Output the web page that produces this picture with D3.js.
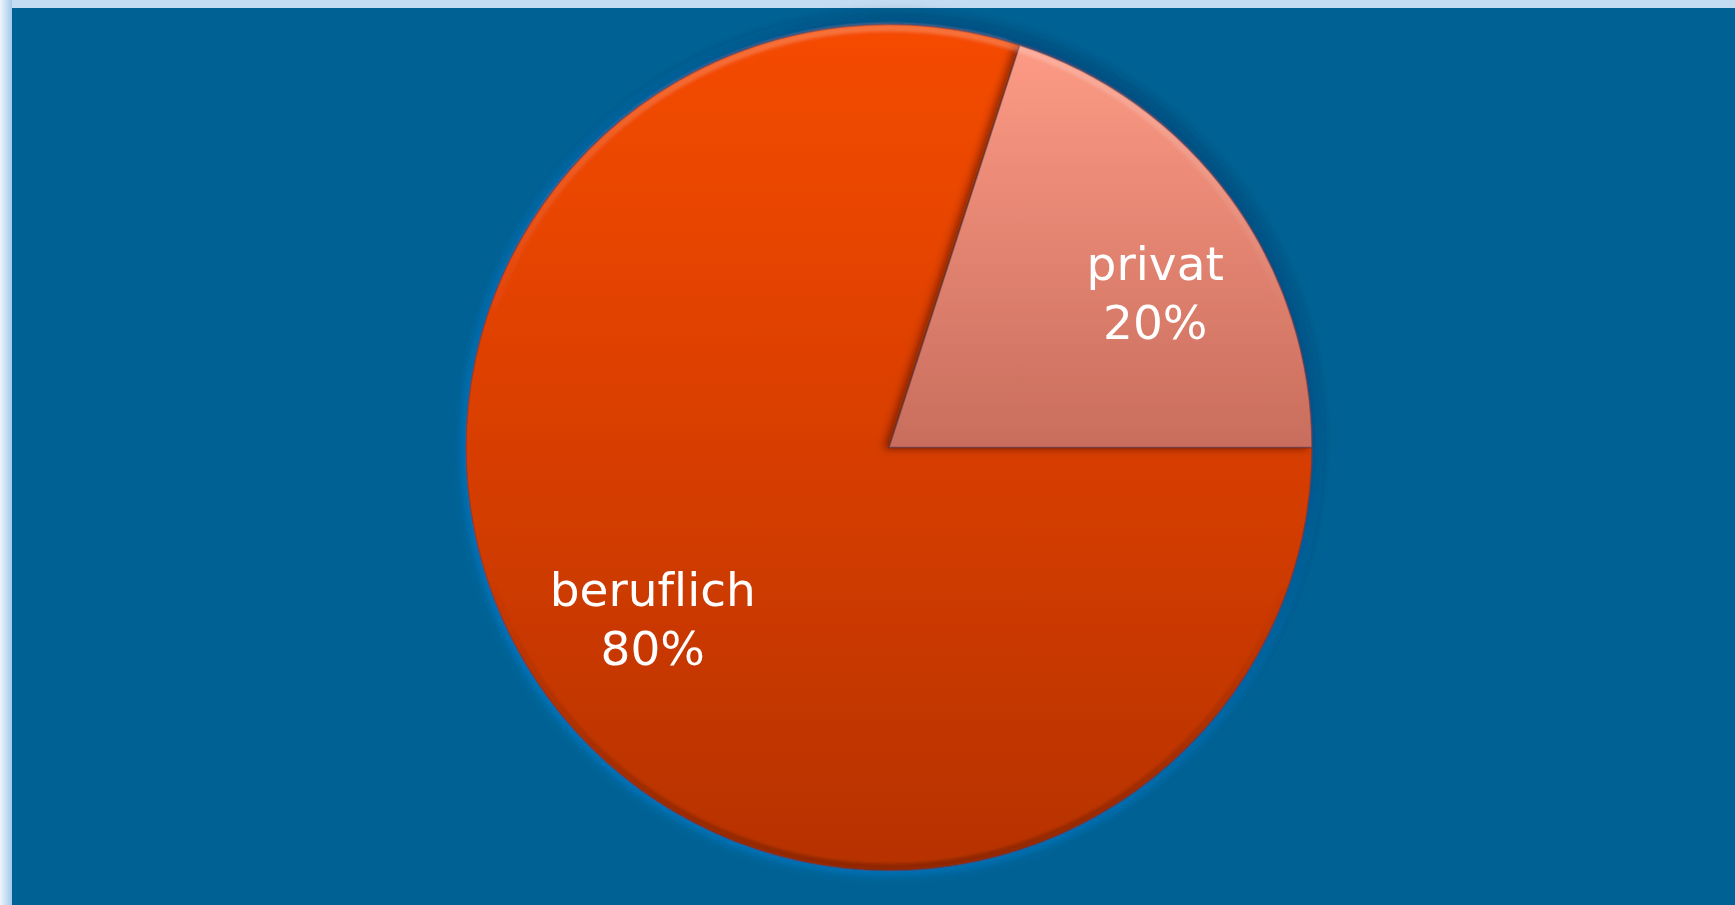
<!DOCTYPE html>
<html>
<head>
<meta charset="utf-8">
<script src="https://cdn.jsdelivr.net/npm/d3@7"></script>
<style>
  html, body { margin: 0; padding: 0; overflow: hidden; background: #ffffff; }
  svg { display: block; }
</style>
</head>
<body>
<script>
// data
const categories = ["beruflich", "privat"];
const values = [80, 20];
const percentLabels = ["80%", "20%"];

const width = 1735;
const height = 905;
const cx = 889, cy = 447.5, radius = 423;

var svg = d3.select("body").append("svg")
    .attr("width", width)
    .attr("height", height);

var defs = svg.append("defs");

// frame gradients
var leftGrad = defs.append("linearGradient").attr("id", "leftEdge")
    .attr("x1", "0").attr("x2", "1").attr("y1", "0").attr("y2", "0");
leftGrad.append("stop").attr("offset", "0").attr("stop-color", "#eef5fc");
leftGrad.append("stop").attr("offset", "1").attr("stop-color", "#a4c8e8");

var topGrad = defs.append("linearGradient").attr("id", "topEdge")
    .attr("x1", "0").attr("x2", "0").attr("y1", "0").attr("y2", "1");
topGrad.append("stop").attr("offset", "0").attr("stop-color", "#c4dcf1");
topGrad.append("stop").attr("offset", "1").attr("stop-color", "#a6c9e8");

// slice gradients, over the whole pie height (group is centred on the pie)
var sliceColors = {
    beruflich: [["0", "#f54b05"], ["0.5", "#d83e04"], ["1", "#b63204"]],
    privat: [["0", "#ff9d87"], ["0.5", "#c96d5d"], ["1", "#944538"]]
};
categories.forEach(function (c) {
    var g = defs.append("linearGradient").attr("id", "grad-" + c)
        .attr("gradientUnits", "userSpaceOnUse")
        .attr("x1", 0).attr("x2", 0)
        .attr("y1", -radius).attr("y2", radius);
    sliceColors[c].forEach(function (s) {
        g.append("stop").attr("offset", s[0]).attr("stop-color", s[1]);
    });
});

var rimGrad = defs.append("linearGradient").attr("id", "rim")
    .attr("gradientUnits", "userSpaceOnUse")
    .attr("x1", 0).attr("x2", 0)
    .attr("y1", -radius).attr("y2", radius);
rimGrad.append("stop").attr("offset", "0").attr("stop-color", "#ffffff").attr("stop-opacity", 0.22);
rimGrad.append("stop").attr("offset", "0.35").attr("stop-color", "#ffffff").attr("stop-opacity", 0.0);
rimGrad.append("stop").attr("offset", "0.65").attr("stop-color", "#000000").attr("stop-opacity", 0.0);
rimGrad.append("stop").attr("offset", "1").attr("stop-color", "#000000").attr("stop-opacity", 0.22);

// outer shadow + glow for the pie
var pieFx = defs.append("filter").attr("id", "pieFx")
    .attr("x", "-10%").attr("y", "-10%").attr("width", "120%").attr("height", "120%");
pieFx.append("feMorphology").attr("in", "SourceAlpha").attr("operator", "dilate").attr("radius", 3).attr("result", "dil");
pieFx.append("feGaussianBlur").attr("in", "dil").attr("stdDeviation", 5).attr("result", "glowBlur");
pieFx.append("feFlood").attr("flood-color", "#0a80d2").attr("flood-opacity", 0.8).attr("result", "glowCol");
pieFx.append("feComposite").attr("in", "glowCol").attr("in2", "glowBlur").attr("operator", "in").attr("result", "glow");
pieFx.append("feGaussianBlur").attr("in", "SourceAlpha").attr("stdDeviation", 7).attr("result", "shBlur");
pieFx.append("feOffset").attr("in", "shBlur").attr("dx", 5).attr("dy", -7).attr("result", "shOff");
pieFx.append("feFlood").attr("flood-color", "#00263f").attr("flood-opacity", 0.7).attr("result", "shCol");
pieFx.append("feComposite").attr("in", "shCol").attr("in2", "shOff").attr("operator", "in").attr("result", "shadow");
var merge = pieFx.append("feMerge");
merge.append("feMergeNode").attr("in", "glow");
merge.append("feMergeNode").attr("in", "shadow");
merge.append("feMergeNode").attr("in", "SourceGraphic");

// shadow cast by the small slice onto the big one
var sliceFx = defs.append("filter").attr("id", "sliceFx")
    .attr("x", "-20%").attr("y", "-20%").attr("width", "140%").attr("height", "140%");
sliceFx.append("feGaussianBlur").attr("in", "SourceAlpha").attr("stdDeviation", 4).attr("result", "b");
sliceFx.append("feOffset").attr("in", "b").attr("dx", -5).attr("dy", 1).attr("result", "o");
sliceFx.append("feFlood").attr("flood-color", "#3a1000").attr("flood-opacity", 0.55).attr("result", "c");
sliceFx.append("feComposite").attr("in", "c").attr("in2", "o").attr("operator", "in").attr("result", "s");
var m2 = sliceFx.append("feMerge");
m2.append("feMergeNode").attr("in", "s");
m2.append("feMergeNode").attr("in", "SourceGraphic");

var rimBlur = defs.append("filter").attr("id", "rimBlur");
rimBlur.append("feGaussianBlur").attr("stdDeviation", 1.5);

// frame and background
svg.append("rect").attr("x", 0).attr("y", 0).attr("width", width).attr("height", height)
    .attr("fill", "url(#topEdge)");
svg.append("rect").attr("x", 0).attr("y", 0).attr("width", 12).attr("height", height)
    .attr("fill", "url(#leftEdge)");
svg.append("rect").attr("x", 12).attr("y", 8).attr("width", width - 12).attr("height", height - 8)
    .attr("fill", "#006294");

// pie
var pieData = categories.map(function (c, i) {
    return { name: c, value: values[i], label: percentLabels[i] };
});

var pie = d3.pie()
    .value(function (d) { return d.value; })
    .sort(null)
    .startAngle(Math.PI / 2)
    .endAngle(Math.PI / 2 + 2 * Math.PI);

var arcs = pie(pieData);

var arc = d3.arc().innerRadius(0).outerRadius(radius);
var labelArc = d3.arc().innerRadius(292).outerRadius(292);

var g = svg.append("g")
    .attr("transform", "translate(" + cx + "," + cy + ")")
    .attr("filter", "url(#pieFx)");

g.selectAll(".slice")
    .data(arcs)
    .enter().append("path")
    .attr("class", "slice")
    .attr("d", arc)
    .attr("fill", function (d) { return "url(#grad-" + d.data.name + ")"; })
    .attr("stroke", "rgba(90,50,60,0.55)")
    .attr("stroke-width", 1.5)
    .attr("filter", function (d) { return d.data.name === "privat" ? "url(#sliceFx)" : null; });

// bevel rim
g.append("circle")
    .attr("r", radius - 3.5)
    .attr("fill", "none")
    .attr("stroke", "url(#rim)")
    .attr("stroke-width", 7)
    .attr("filter", "url(#rimBlur)");

// labels
var labels = g.selectAll(".label")
    .data(arcs)
    .enter().append("text")
    .attr("class", "label")
    .attr("text-anchor", "middle")
    .attr("fill", "#ffffff")
    .style("font-family", "'DejaVu Sans', Verdana, sans-serif")
    .style("font-size", "47px")
    .style("font-variant-ligatures", "none")
    .attr("transform", function (d) {
        var p = labelArc.centroid(d);
        // best-fit nudge for the small slice, like the original
        if (d.data.name === "privat") { p[0] += 30; p[1] += 17; }
        return "translate(" + p[0] + "," + p[1] + ")";
    });

labels.append("tspan")
    .attr("x", 0).attr("y", -13)
    .text(function (d) { return d.data.name; });
labels.append("tspan")
    .attr("x", 0).attr("y", 46)
    .text(function (d) { return d.data.label; });
</script>
</body>
</html>
